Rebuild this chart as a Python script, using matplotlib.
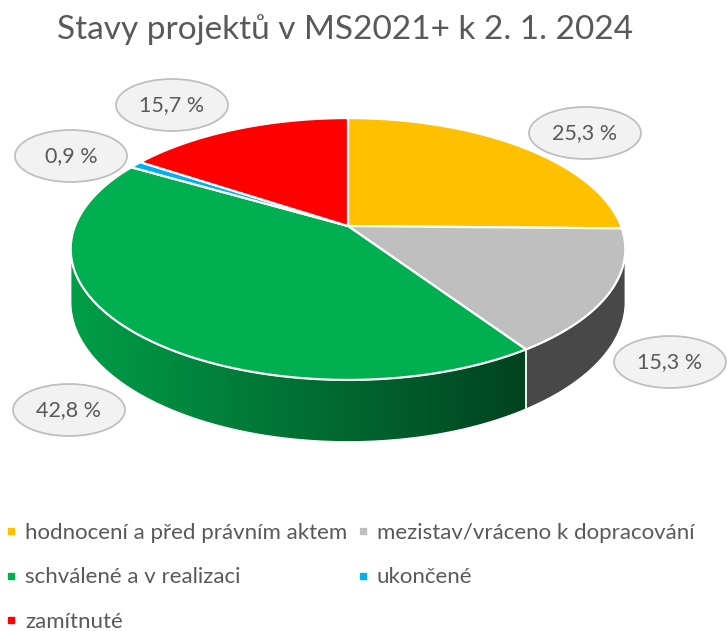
import numpy as np
import matplotlib
matplotlib.use('Agg')
import matplotlib.pyplot as plt
from matplotlib.patches import Polygon, Ellipse
from matplotlib.lines import Line2D
from matplotlib.colors import to_rgb

plt.rcParams['font.family'] = ['Lato', 'DejaVu Sans']

title = 'Stavy projektů v MS2021+ k 2. 1. 2024'
labels = ['hodnocení a před právním aktem', 'mezistav/vráceno k dopracování',
          'schválené a v realizaci', 'ukončené', 'zamítnuté']
values = [25.3, 15.3, 42.8, 0.9, 15.7]
colors = ['#FFC000', '#BFBFBF', '#00B050', '#00B0F0', '#FF0000']

# bubble positions (pixel coords), same order as values
bubble_pos = [(585, 133), (670, 362), (69, 410), (71, 156), (172, 105)]

text_col = '#595959'

# 3d pie geometry (pixels)
cx, cy = 348, 226
R = 273
ry = 126.9
k = 0.1756
thick = 51


def proj(theta, h=0.0):
    th = np.radians(theta)
    z = np.cos(th)
    s = 1 / (1 + k * z)
    return cx + R * np.sin(th) * s, cy - ry * z * s + thick * h * s


fig = plt.figure(figsize=(7.27, 6.31), dpi=100)
ax = fig.add_axes([0, 0, 1, 1])

cum = np.concatenate([[0], np.cumsum(values)]) / np.sum(values) * 360
sil = np.degrees(np.arccos(-k))

# side walls (only the front facing part)
for i, c in enumerate(colors):
    a0 = max(cum[i], sil)
    a1 = min(cum[i + 1], 360 - sil)
    if a1 <= a0:
        continue
    t = np.linspace(a0, a1, 200)
    xt, yt = proj(t, 0)
    xb, yb = proj(t[::-1], 1)
    pts = np.column_stack([np.concatenate([xt, xb]), np.concatenate([yt, yb])])
    poly = Polygon(pts, closed=True, fc='none', ec='white', lw=1.0, zorder=3)
    ax.add_patch(poly)
    xs = np.linspace(pts[:, 0].min(), pts[:, 0].max(), 300)
    f = np.clip(0.9 - (xs - 70) / (525 - 70) * 0.52, 0.38, 0.9)
    rgb = np.array(to_rgb(c))
    img = (f[:, None] * rgb[None, :])[None, :, :]
    im = ax.imshow(img, extent=(xs[0], xs[-1], pts[:, 1].max(), pts[:, 1].min()),
                   aspect='auto', interpolation='bilinear', zorder=2)
    im.set_clip_path(poly)

# top faces
for i, c in enumerate(colors):
    t = np.linspace(cum[i], cum[i + 1], max(int((cum[i + 1] - cum[i]) * 2), 4))
    xt, yt = proj(t, 0)
    pts = np.column_stack([np.concatenate([[cx], xt]), np.concatenate([[cy], yt])])
    ax.add_patch(Polygon(pts, closed=True, fc=c, ec='white', lw=1.6, zorder=4))

# value bubbles
for v, (bx, by) in zip(values, bubble_pos):
    ax.add_patch(Ellipse((bx, by), 112, 52, fc='#F2F2F2', ec='#BFBFBF', lw=1.3, zorder=5))
    ax.text(bx, by, f'{v:.1f} %'.replace('.', ','), ha='center', va='center',
            fontsize=15.5, color=text_col, zorder=6)

ax.text(345, 39, title, ha='center', va='baseline', fontsize=24, color=text_col)

handles = [Line2D([], [], marker='s', ls='', markersize=5, color=c) for c in colors]
order = [0, 2, 4, 1, 3]
fig.legend([handles[j] for j in order], [labels[j] for j in order], ncol=2,
           loc='upper left', bbox_to_anchor=(-3.5 / 727, 1 - 514 / 631), frameon=False,
           fontsize=16, labelcolor=text_col, handlelength=0.5, handletextpad=0.4,
           columnspacing=0.42, labelspacing=1.1, borderaxespad=0, borderpad=0.4)

ax.set_xlim(0, 727)
ax.set_ylim(631, 0)
ax.axis('off')

plt.savefig('out.png', dpi=100)
